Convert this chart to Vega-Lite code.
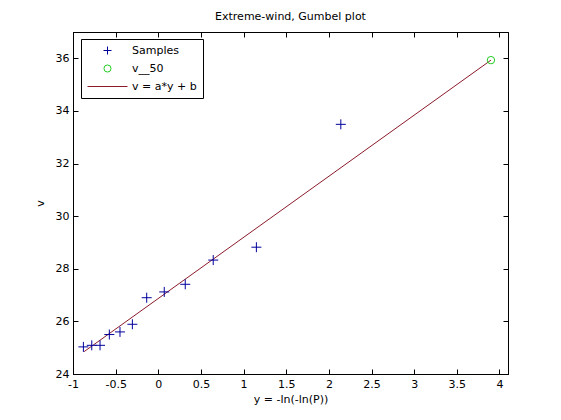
{
  "$schema": "https://vega.github.io/schema/vega-lite/v6.json",
  "autosize": {"type": "none"},
  "padding": {"left": 73, "top": 32, "right": 53, "bottom": 46},
  "width": 435,
  "height": 342,
  "background": "white",
  "config": {
    "font": "DejaVu Sans",
    "view": {"stroke": "black", "strokeWidth": 1},
    "axis": {
      "grid": false,
      "domainColor": "black",
      "tickColor": "black",
      "labelColor": "black",
      "titleColor": "black",
      "labelFont": "DejaVu Sans",
      "titleFont": "DejaVu Sans",
      "labelFontSize": 11,
      "titleFontSize": 11,
      "titleFontWeight": "normal",
      "tickSize": -5,
      "labelExpr": "datum.value + ''"
    },
    "legend": {
      "title": null,
      "orient": "none",
      "legendX": 8,
      "legendY": 7,
      "strokeColor": "black",
      "fillColor": "white",
      "padding": 6,
      "labelFontSize": 11,
      "labelFont": "DejaVu Sans",
      "labelColor": "black",
      "symbolOffset": 15,
      "labelOffset": 19,
      "rowPadding": 5,
      "symbolStrokeWidth": 1,
      "cornerRadius": 0
    }
  },
  "title": {
    "text": "Extreme-wind, Gumbel plot",
    "fontSize": 11,
    "fontWeight": "normal",
    "font": "DejaVu Sans",
    "color": "black",
    "offset": 10
  },
  "data": {
    "values": [
      {"series": "Samples", "y": -0.878, "v": 25.03},
      {"series": "Samples", "y": -0.78, "v": 25.09},
      {"series": "Samples", "y": -0.683, "v": 25.09},
      {"series": "Samples", "y": -0.574, "v": 25.5},
      {"series": "Samples", "y": -0.449, "v": 25.6},
      {"series": "Samples", "y": -0.304, "v": 25.89},
      {"series": "Samples", "y": -0.136, "v": 26.9},
      {"series": "Samples", "y": 0.07, "v": 27.12},
      {"series": "Samples", "y": 0.316, "v": 27.41},
      {"series": "Samples", "y": 0.644, "v": 28.33},
      {"series": "Samples", "y": 1.15, "v": 28.82},
      {"series": "Samples", "y": 2.14, "v": 33.49},
      {"series": "v__50", "y": 3.9, "v": 35.93},
      {"series": "v = a*y + b", "y": -0.87, "v": 24.85},
      {"series": "v = a*y + b", "y": 3.9, "v": 35.93}
    ]
  },
  "resolve": {"axis": {"x": "independent", "y": "independent"}},
  "layer": [
    {
      "transform": [{"filter": "datum.series === 'v = a*y + b'"}],
      "mark": {"type": "line", "strokeWidth": 1},
      "encoding": {
        "x": {
          "field": "y", "type": "quantitative",
          "scale": {"domain": [-1, 4.1], "nice": false, "zero": false},
          "axis": {
            "title": "y = -ln(-ln(P))",
            "values": [-1, -0.5, 0, 0.5, 1, 1.5, 2, 2.5, 3, 3.5, 4],
            "labelPadding": 9,
            "titlePadding": 4,
            "labelFlush": false
          }
        },
        "y": {
          "field": "v", "type": "quantitative",
          "scale": {"domain": [24, 37], "nice": false, "zero": false},
          "axis": {
            "title": "v",
            "values": [24, 26, 28, 30, 32, 34, 36],
            "labelPadding": 9,
            "titlePadding": 10
          }
        },
        "color": {
          "field": "series", "type": "nominal",
          "scale": {"domain": ["Samples", "v__50", "v = a*y + b"], "range": ["#00009c", "#22cc22", "#8b1a2a"]},
          "legend": {
            "encode": {
              "symbols": {
                "update": {
                  "size": {"signal": "datum.value === 'v = a*y + b' ? 1600 : datum.value === 'Samples' ? 64 : 50"}
                }
              }
            }
          }
        }
      }
    },
    {
      "transform": [{"filter": "datum.series === 'Samples'"}],
      "mark": {"type": "point", "filled": false, "strokeWidth": 1, "opacity": 1, "size": 100},
      "encoding": {
        "x": {
          "field": "y", "type": "quantitative",
          "axis": {
            "orient": "top", "title": null, "labels": false,
            "values": [-1, -0.5, 0, 0.5, 1, 1.5, 2, 2.5, 3, 3.5, 4]
          }
        },
        "y": {
          "field": "v", "type": "quantitative",
          "axis": {
            "orient": "right", "title": null, "labels": false,
            "values": [24, 26, 28, 30, 32, 34, 36]
          }
        },
        "color": {
          "field": "series", "type": "nominal",
          "legend": {
            "encode": {
              "symbols": {
                "update": {
                  "size": {"signal": "datum.value === 'v = a*y + b' ? 1600 : datum.value === 'Samples' ? 64 : 50"}
                }
              }
            }
          }
        },
        "shape": {
          "field": "series", "type": "nominal",
          "scale": {"domain": ["Samples", "v__50", "v = a*y + b"], "range": ["M-1,0H1M0,-1V1", "circle", "stroke"]}
        }
      }
    },
    {
      "transform": [{"filter": "datum.series === 'v__50'"}],
      "mark": {"type": "point", "filled": false, "strokeWidth": 1, "opacity": 1, "size": 55},
      "encoding": {
        "x": {"field": "y", "type": "quantitative", "axis": null},
        "y": {"field": "v", "type": "quantitative", "axis": null},
        "color": {"field": "series", "type": "nominal"},
        "shape": {"field": "series", "type": "nominal"}
      }
    }
  ]
}
